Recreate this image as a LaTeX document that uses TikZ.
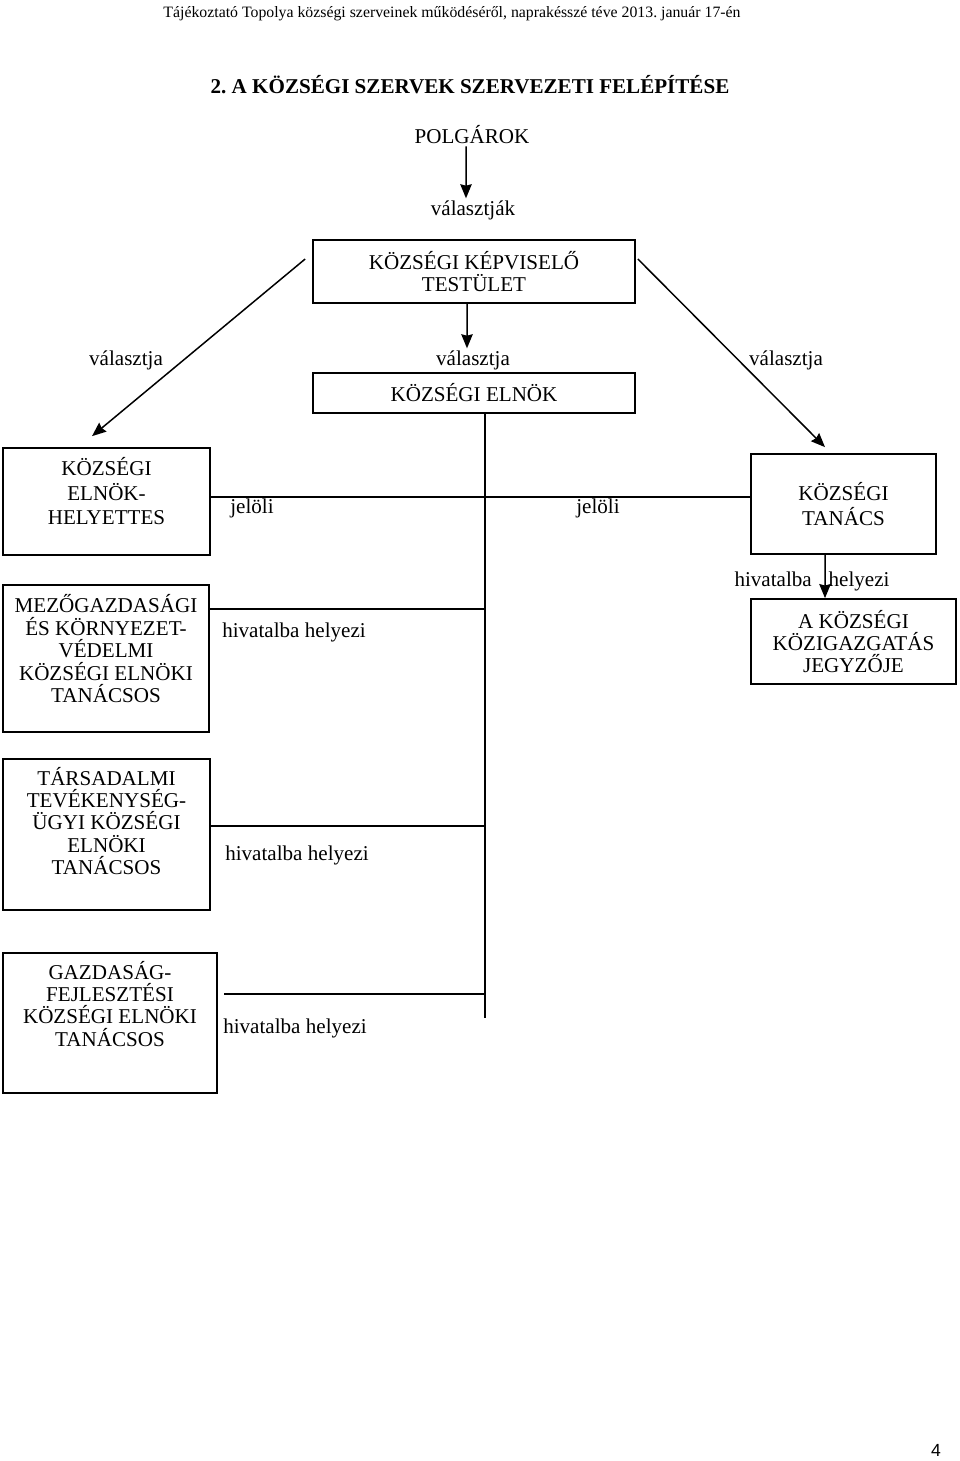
\documentclass[tikz,border=0pt]{standalone}
\usepackage{fontspec}
\setmainfont{Liberation Serif}
\newfontfamily\pagenumfont{Liberation Sans}
\usetikzlibrary{shapes, arrows.meta, positioning}
\frenchspacing

\begin{document}
\begin{tikzpicture}[x=0.02cm, y=-0.02cm,
    every node/.style={font=\fontsize{12}{12.6}\selectfont, align=center, inner sep=1pt},
    box/.style={draw, line width=1pt, inner sep=0pt},
    txt/.style={inner sep=0pt},
    line/.style={line width=0.85pt},
    arr/.style={line width=0.85pt, -{Stealth[length=8pt, width=6.5pt, inset=0.8pt]}}]
  \useasboundingbox (0,0) rectangle (960,1461);
  % fejlec es cim
  \node[font=\fontsize{9}{10}\selectfont] (HEAD) at (452,14) {Tájékoztató Topolya községi szerveinek működéséről, naprakésszé téve 2013. január 17-én};
  \node[font=\fontsize{12}{13}\selectfont\bfseries] (TITLE) at (470,85) {2. A KÖZSÉGI SZERVEK SZERVEZETI FELÉPÍTÉSE};

  % felso resz
  \node (POLG) at (472,135) {POLGÁROK};
  \node (VALJ) at (473,210) {választják};
  \node[box, minimum width=6.44cm, minimum height=1.26cm] (TEST) at (474,271.5) {KÖZSÉGI KÉPVISELŐ\\TESTÜLET};
  \node (VAL1) at (126,360) {választja};
  \node (VAL2) at (473,360) {választja};
  \node (VAL3) at (786,360) {választja};
  \node[box, minimum width=6.44cm, minimum height=0.8cm] (ELN) at (474,393) {KÖZSÉGI ELNÖK};

  % dobozok
  \node[box, minimum width=4.14cm, minimum height=2.14cm] (HELY) at (106.5,501.5) {};
  \node[txt, below=0.2cm of HELY.north, font=\fontsize{12}{14}\selectfont] (HELYT) {KÖZSÉGI\\ELNÖK-\\HELYETTES};
  \node[box, minimum width=3.7cm, minimum height=2cm, font=\fontsize{12}{14.2}\selectfont] (TAN) at (843.5,504) {KÖZSÉGI\\TANÁCS};
  \node[box, minimum width=4.1cm, minimum height=1.7cm] (JEGY) at (853.5,641.5) {A KÖZSÉGI\\KÖZIGAZGATÁS\\JEGYZŐJE};
  \node[box, minimum width=4.12cm, minimum height=2.94cm] (MEZO) at (106,658.5) {};
  \node[txt, below=0.2cm of MEZO.north, font=\fontsize{12}{12.8}\selectfont] (MEZOT) {MEZŐGAZDASÁGI\\ÉS KÖRNYEZET-\\VÉDELMI\\KÖZSÉGI ELNÖKI\\TANÁCSOS};
  \node[box, minimum width=4.14cm, minimum height=3.02cm] (TARS) at (106.5,834.5) {};
  \node[txt, below=0.18cm of TARS.north] (TARST) {TÁRSADALMI\\TEVÉKENYSÉG-\\ÜGYI KÖZSÉGI\\ELNÖKI\\TANÁCSOS};
  \node[box, minimum width=4.28cm, minimum height=2.8cm] (GAZD) at (110,1023) {};
  \node[txt, below=0.18cm of GAZD.north] (GAZDT) {GAZDASÁG-\\FEJLESZTÉSI\\KÖZSÉGI ELNÖKI\\TANÁCSOS};

  % feliratok
  \node (JEL1) at (252,508) {jelöli};
  \node (JEL2) at (598,508) {jelöli};
  \node (HIV0) at (812,581) {hivatalba\hskip0.8em helyezi};
  \node (HIV1) at (294,632) {hivatalba helyezi};
  \node (HIV2) at (297,855) {hivatalba helyezi};
  \node (HIV3) at (295,1028) {hivatalba helyezi};
  \node[font=\pagenumfont\fontsize{10}{12}\selectfont] (PAGE) at (936,1450) {4};

  \coordinate (B0) at (485,497);
  \coordinate (B1) at (485,609);
  \coordinate (B2) at (485,826);
  \coordinate (B3) at (485,994);
  \coordinate (G3) at (224,994);
  \coordinate (BEND) at (485,1018);

  % nyilak es vonalak
  \draw[arr] ([xshift=-0.12cm]POLG.south) -- ([xshift=-0.14cm]VALJ.north);
  \draw[arr] ([xshift=-0.14cm]TEST.south) -- ([xshift=-0.12cm]VAL2.north);
  \draw[arr] ([xshift=-0.14cm, yshift=0.25cm]TEST.west) -- ([xshift=-0.29cm, yshift=0.22cm]HELY.north);
  \draw[arr] ([xshift=0.04cm, yshift=0.25cm]TEST.east) -- ([xshift=-0.37cm, yshift=0.12cm]TAN.north);
  \draw[arr] ([xshift=-0.37cm]TAN.south) -- ([xshift=-0.57cm]JEGY.north);
  \draw[line] (ELN.south -| B0) -- (BEND);
  \draw[line] (HELY.east |- B0) -- (TAN.west |- B0);
  \draw[line] (MEZO.east |- B1) -- (B1);
  \draw[line] (TARS.east |- B2) -- (B2);
  \draw[line] (G3) -- (B3);
\end{tikzpicture}
\end{document}
